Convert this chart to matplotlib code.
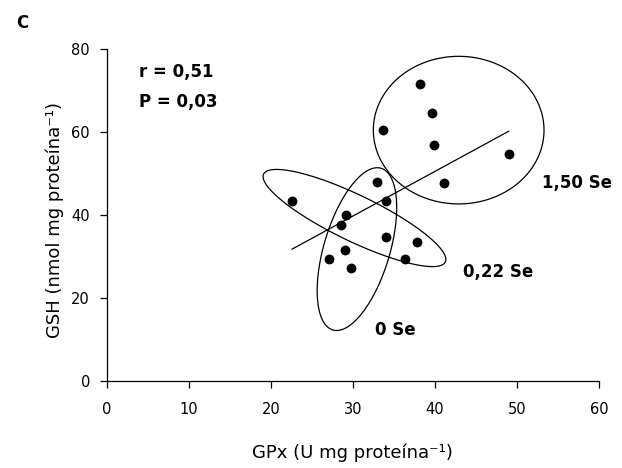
import numpy as np
import matplotlib
matplotlib.use("Agg")
import matplotlib.pyplot as plt

plt.rcParams['font.family'] = ['DejaVu Sans']

# GPx (x) and GSH (y) values for all animals
gpx = [22.6, 32.9, 34.0, 29.2, 28.6, 34.0, 37.8, 29.0, 27.1, 36.4, 29.8,
       38.2, 39.7, 33.7, 39.9, 49.0, 41.1]
gsh = [43.5, 48.1, 43.5, 40.0, 37.7, 34.7, 33.5, 31.6, 29.3, 29.3, 27.3,
       71.7, 64.7, 60.5, 56.9, 54.7, 47.7]

x_ticks = [0, 10, 20, 30, 40, 50, 60]
y_ticks = [0, 20, 40, 60, 80]

# group ellipses: label, center, semi-axis vector 1, semi-axis vector 2 (data units)
group_labels = ["1,50 Se", "0,22 Se", "0 Se"]
ell_center = [(42.9, 60.5), (30.2, 39.3), (30.5, 31.8)]
ell_vec1 = [(10.4, 0.0), (11.07, -10.6), (2.94, 19.5)]
ell_vec2 = [(0.0, 17.8), (1.22, 5.0), (3.85, -2.27)]
label_pos = [(53.1, 47.8), (43.4, 26.3), (32.7, 12.3)]

stats_text = ["r = 0,51", "P = 0,03"]

fig = plt.figure(figsize=(6.22, 4.68), dpi=100)
ax = fig.add_axes([0.1715, 0.186, 0.7915, 0.7087])

ax.scatter(gpx, gsh, s=50, color='black', zorder=3, linewidths=0)

coef = np.polyfit(gpx, gsh, 1)
xl = np.array([min(gpx), max(gpx)])
ax.plot(xl, np.polyval(coef, xl), color='black', lw=0.9)

t = np.linspace(0, 2 * np.pi, 300, endpoint=False)
for c, v1, v2 in zip(ell_center, ell_vec1, ell_vec2):
    ex = c[0] + v1[0] * np.cos(t) + v2[0] * np.sin(t)
    ey = c[1] + v1[1] * np.cos(t) + v2[1] * np.sin(t)
    ax.fill(ex, ey, fill=False, edgecolor='black', lw=0.9)

for lab, pos in zip(group_labels, label_pos):
    ax.text(pos[0], pos[1], lab, fontsize=12, fontweight='bold', ha='left', va='center')

ax.text(3.9, 74.5, stats_text[0], fontsize=12, fontweight='bold', ha='left', va='center')
ax.text(3.9, 67.2, stats_text[1], fontsize=12, fontweight='bold', ha='left', va='center')

ax.set_xlim(0, 60)
ax.set_ylim(0, 80)
ax.set_xticks(x_ticks)
ax.set_yticks(y_ticks)
ax.tick_params(direction='out', length=5, width=0.9, labelsize=10.5)
ax.tick_params(axis='x', pad=10)
ax.tick_params(axis='y', pad=7)
for s in ['top', 'right']:
    ax.spines[s].set_visible(False)
for s in ['left', 'bottom']:
    ax.spines[s].set_linewidth(0.9)

ax.set_xlabel("GPx (U mg proteína⁻¹)", fontsize=13, va='center')
ax.xaxis.set_label_coords(0.5, -0.217)
ax.set_ylabel("GSH (nmol mg proteína⁻¹)", fontsize=13, va='center')
ax.yaxis.set_label_coords(-0.105, 0.485)

fig.text(0.026, 0.951, "C", fontsize=12, fontweight='bold', ha='left', va='center')

fig.savefig("out.png", dpi=100)
